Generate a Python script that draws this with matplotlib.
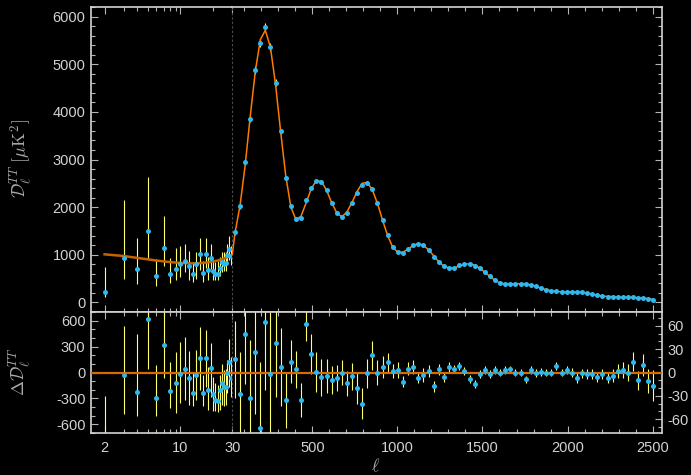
import numpy as np
import matplotlib
matplotlib.use('Agg')
import matplotlib.pyplot as plt
from matplotlib.ticker import FixedLocator, FixedFormatter, NullFormatter

plt.rc('font', family='Liberation Sans', size=10.5)
plt.rc('mathtext', fontset='cm')

# ---- low-ell data (log part, ell = 2..29) ----
ell_low = [2, 3, 4, 5, 6, 7, 8, 9, 10, 11, 12, 13, 14, 15, 16, 17, 18, 19,
           20, 21, 22, 23, 24, 25, 26, 27, 28, 29]
dl_low = [216, 930, 692, 1496, 552, 1147, 605, 695, 797, 870, 762, 587, 800,
          1014, 615, 1025, 671, 940, 657, 587, 587, 730, 839, 811, 825, 1000,
          1126, 965]
dl_low_lo = [111, 497, 392, 916, 342, 762, 405, 476, 531, 636, 476, 426, 497,
             686, 440, 730, 480, 700, 480, 470, 470, 550, 640, 650, 670, 800,
             900, 790]
dl_low_hi = [741, 2140, 1357, 2643, 916, 1811, 930, 1133, 1181, 1231, 1076,
             846, 1055, 1357, 880, 1357, 950, 1231, 900, 850, 860, 960, 1050,
             1050, 1060, 1230, 1400, 1180]
res_low = [-794, -31, -225, 617, -294, 316, -210, -122, -19, 46, -65, -237,
           -34, 171, -237, 164, -206, 53, -248, -317, -325, -202, -118, -172,
           -172, -4, 118, -62]
res_low_lo = [-1000, -477, -507, 46, -500, -69, -411, -469, -354, -317, -374,
              -393, -317, -202, -385, -164, -431, -279, -450, -450, -461, -431,
              -374, -385, -374, -240, -164, -279]
res_low_hi = [-267, 537, 446, 1200, 83, 900, 121, 235, 350, 407, 247, 7, 255,
              521, -31, 491, 64, 338, -50, -126, -145, -31, 103, 34, 46, 141,
              389, 179]

# best-fit curve at low ell
ell_th_low = [2, 3, 4, 5, 6, 7, 8, 9, 10, 11, 12, 13, 14, 15, 16, 17, 18, 19,
              20, 21, 22, 23, 24, 25, 26, 27, 28, 29, 30]
dl_th_low = [1010, 975, 935, 905, 880, 862, 848, 838, 830, 825, 822, 821, 822,
             825, 830, 836, 843, 851, 860, 870, 881, 893, 906, 920, 935, 951,
             968, 986, 1005]

# ---- high-ell binned data (linear part) ----
ell_high = [46, 76, 106, 135, 165, 195, 224, 254, 284, 314,
            344, 374, 404, 434, 464, 494, 524, 554, 584, 613,
            643, 673, 703, 733, 763, 793, 823, 853, 883, 913,
            943, 973, 1003, 1033, 1063, 1093, 1123, 1153, 1184, 1214,
            1244, 1274, 1304, 1334, 1364, 1394, 1424, 1454, 1484, 1514,
            1544, 1574, 1604, 1634, 1664, 1694, 1724, 1754, 1784, 1814,
            1844, 1874, 1904, 1934, 1965, 1995, 2025, 2055, 2085, 2115,
            2145, 2175, 2205, 2235, 2265, 2295, 2325, 2355, 2385, 2415,
            2445, 2474, 2500]
dl_high = [1475, 2020, 2943, 3860, 4873, 5448, 5776, 5356, 4615, 3594,
           2622, 2020, 1741, 1776, 2154, 2412, 2559, 2531, 2350, 2091,
           1881, 1797, 1881, 2091, 2307, 2461, 2517, 2385, 2077, 1735,
           1412, 1160, 1055, 1043, 1126, 1202, 1231, 1196, 1105, 959,
           854, 755, 728, 728, 776, 804, 804, 770, 720, 636,
           545, 468, 405, 392, 392, 392, 392, 378, 371, 336,
           300, 266, 245, 238, 224, 224, 224, 217, 210, 189,
           168, 147, 133, 119, 119, 112, 112, 112, 119, 91,
           98, 70, 49]
res_high = [17, -28, 50, -33, 27, -71, 65, -2, 38, 7,
            -36, 14, 4, -35, 62, 24, 1, -6, -4, -10,
            -7, 0, -14, -5, -20, -40, -1, 22, 0, 7,
            13, 2, 3, -12, 5, 7, -7, -3, 2, -18,
            4, -6, 7, 5, 8, 2, -8, -15, -2, 3,
            -2, 3, 0, 3, 4, 0, 0, -9, 3, -1,
            1, 0, 0, 8, 0, 3, 0, -7, -1, -2,
            -2, -6, -2, -7, -4, 2, 3, 0, 14, -10,
            10, -11, -17]
err_high = [50, 55, 65, 75, 80, 85, 88, 80, 70, 50,
            35, 28, 24, 22, 22, 26, 26, 24, 22, 18,
            17, 16, 16, 17, 20, 20, 19, 19, 16, 14,
            12, 9, 10, 7, 8, 9, 7, 9, 8, 7,
            7, 6, 6, 5, 5, 5, 5, 5, 5, 5,
            5, 5, 5, 5, 5, 5, 5, 5, 5, 5,
            5, 5, 5, 5, 5, 5, 6, 6, 6, 6,
            6, 6, 7, 7, 8, 9, 10, 11, 12, 12,
            14, 15, 20]

# ---- colours ----
bg = 'black'
spine_c = '#d4d4d4'
tick_c = '#b4b4b4'
text_c = '#d2d2d2'
label_c = '#a8a8a8'
pt_c = '#2fb8ee'
bar_c = '#ffff6a'
curve_c = '#ff7a00'
curve_low_c = '#c86400'
zero_c = '#d86a00'

W, H = 691, 475
fig = plt.figure(figsize=(W / 100, H / 100), dpi=100, facecolor=bg)


def box(x0, x1, y0, y1):
    return [x0 / W, 1 - y1 / H, (x1 - x0) / W, (y1 - y0) / H]


xl, xm, xr = 91, 232.3, 661.5
yt, ym, yb = 7, 312, 433
ax_tl = fig.add_axes(box(xl, xm, yt, ym))
ax_tr = fig.add_axes(box(xm, xr, yt, ym))
ax_bl = fig.add_axes(box(xl, xm, ym, yb))
ax_br = fig.add_axes(box(xm, xr, ym, yb))

for ax in (ax_tl, ax_tr, ax_bl, ax_br):
    ax.set_facecolor(bg)
    for s in ax.spines.values():
        s.set_color(spine_c)
        s.set_linewidth(1.2)
    ax.tick_params(which='both', direction='in', color=tick_c,
                   labelcolor=text_c, top=True, bottom=True, width=0.8,
                   labelbottom=False)
    ax.tick_params(which='major', length=5, pad=4)
    ax.tick_params(which='minor', length=2.6)

for ax in (ax_tl, ax_bl):
    ax.set_xscale('log')
    ax.set_xlim(1.5, 30)
    ax.spines['right'].set_visible(False)
    ax.tick_params(which='both', left=True, right=False)
    ax.xaxis.set_major_locator(FixedLocator([2, 10]))
    ax.xaxis.set_minor_locator(FixedLocator([3, 4, 5, 6, 7, 8, 9, 20]))
    ax.xaxis.set_major_formatter(FixedFormatter(['2', '10']))
    ax.xaxis.set_minor_formatter(NullFormatter())

lin_major = [30, 500, 1000, 1500, 2000, 2500]
lin_minor = [100, 200, 300, 400, 600, 700, 800, 900, 1100, 1200, 1300, 1400,
             1600, 1700, 1800, 1900, 2100, 2200, 2300, 2400]
for ax in (ax_tr, ax_br):
    ax.set_xlim(30, 2552)
    ax.spines['left'].set_linestyle((0, (1.2, 2.8)))
    ax.spines['left'].set_color('#4a4a4a')
    ax.spines['left'].set_linewidth(0.8)
    ax.tick_params(which='both', left=False, right=True, labelleft=False)
    ax.xaxis.set_major_locator(FixedLocator(lin_major))
    ax.xaxis.set_minor_locator(FixedLocator(lin_minor))
    ax.xaxis.set_major_formatter(FixedFormatter(['30', '500', '1000', '1500',
                                                 '2000', '2500']))

# top panel y
for ax in (ax_tl, ax_tr):
    ax.set_ylim(-200, 6200)
    ax.yaxis.set_major_locator(FixedLocator([0, 1000, 2000, 3000, 4000, 5000, 6000]))
    ax.yaxis.set_minor_locator(FixedLocator(np.arange(-200, 6201, 200)))
    ax.yaxis.set_minor_formatter(NullFormatter())
ax_tl.yaxis.set_major_formatter(FixedFormatter(['0', '1000', '2000', '3000',
                                                '4000', '5000', '6000']))
ax_tr.tick_params(labelright=False)

# residual panels y
ax_bl.set_ylim(-700, 700)
ax_bl.yaxis.set_major_locator(FixedLocator([-600, -300, 0, 300, 600]))
ax_bl.yaxis.set_major_formatter(FixedFormatter(['-600', '-300', '0', '300', '600']))
ax_bl.yaxis.set_minor_locator(FixedLocator(np.arange(-700, 701, 100)))
ax_br.set_ylim(-78, 78)
ax_br.yaxis.set_major_locator(FixedLocator([-60, -30, 0, 30, 60]))
ax_br.yaxis.set_major_formatter(FixedFormatter(['-60', '-30', '0', '30', '60']))
ax_br.yaxis.set_minor_locator(FixedLocator(np.arange(-70, 71, 10)))
ax_br.tick_params(labelright=True)

for ax in (ax_bl, ax_br):
    ax.tick_params(which='major', axis='x', labelbottom=True, pad=6)

# ---- top panel ----
ell_low = np.array(ell_low)
dl_low = np.array(dl_low)
ax_tl.errorbar(ell_low, dl_low,
               yerr=[dl_low - np.array(dl_low_lo), np.array(dl_low_hi) - dl_low],
               fmt='none', ecolor=bar_c, elinewidth=0.8, capsize=0, zorder=2)
ax_tl.plot(ell_th_low, dl_th_low, color=curve_low_c, lw=1.8, zorder=3)
ax_tl.plot(ell_low, dl_low, 'o', ms=3.6, mew=0, color=pt_c, zorder=4,
           clip_on=False)

ell_high = np.array(ell_high)
dl_high = np.array(dl_high)
res_high = np.array(res_high)
th_high = dl_high - res_high
ax_tr.errorbar(ell_high, dl_high, yerr=err_high, fmt='none', ecolor=bar_c,
               elinewidth=0.8, capsize=0, zorder=2)
ax_tr.plot(np.r_[ell_th_low[-1], ell_high], np.r_[dl_th_low[-1], th_high],
           color=curve_c, lw=1.1, zorder=3)
ax_tr.plot(ell_high, dl_high, 'o', ms=3.6, mew=0, color=pt_c, zorder=4)

# ---- residual panel ----
res_low = np.array(res_low)
ax_bl.errorbar(ell_low, res_low,
               yerr=[res_low - np.array(res_low_lo), np.array(res_low_hi) - res_low],
               fmt='none', ecolor=bar_c, elinewidth=0.8, capsize=0, zorder=2)
ax_bl.axhline(0, color=zero_c, lw=1.6, zorder=3)
ax_bl.plot(ell_low, res_low, 'o', ms=3.6, mew=0, color=pt_c, zorder=4)

ax_br.errorbar(ell_high, res_high, yerr=err_high, fmt='none', ecolor=bar_c,
               elinewidth=0.8, capsize=0, zorder=2)
ax_br.axhline(0, color=zero_c, lw=1.6, zorder=3)
ax_br.plot(ell_high, res_high, 'o', ms=3.6, mew=0, color=pt_c, zorder=4)

# ---- axis titles ----
fig.text(21 / W, 1 - 159 / H, r'$\mathcal{D}_\ell^{TT}\ [\mu\mathrm{K}^2]$',
         rotation=90, ha='center', va='center', color=label_c, fontsize=13)
fig.text(20 / W, 1 - 372 / H, r'$\Delta\mathcal{D}_\ell^{TT}$',
         rotation=90, ha='center', va='center', color=label_c, fontsize=13)
fig.text(376 / W, 1 - 467 / H, r'$\ell$', ha='center', va='center',
         color=label_c, fontsize=13)

fig.savefig('out.png', dpi=100, facecolor=bg)
